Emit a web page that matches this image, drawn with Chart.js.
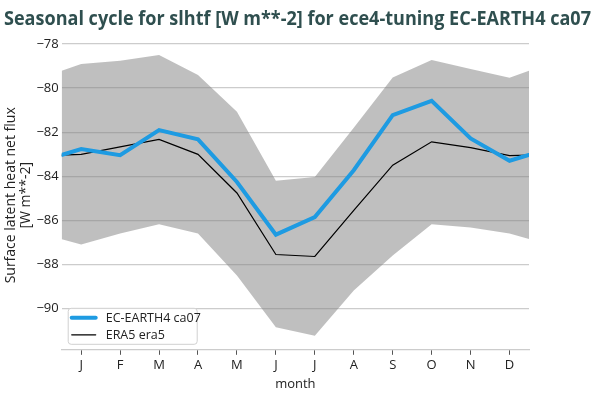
<!DOCTYPE html>
<html>
<head>
<meta charset="utf-8">
<title>Seasonal cycle slhtf</title>
<script src="https://cdn.jsdelivr.net/npm/chart.js@4/dist/chart.umd.min.js"></script>
<style>
    html, body { margin: 0; padding: 0; background: #fff; }
    #wrap { width: 595px; height: 401px; position: relative; }
</style>
</head>
<body>
<div id="wrap"><canvas id="seasonChart"></canvas></div>
<script>
// months and tick labels
const months = ['J', 'F', 'M', 'A', 'M', 'J', 'J', 'A', 'S', 'O', 'N', 'D'];
const yTicks = [-90, -88, -86, -84, -82, -80, -78];

// monthly means
const ecEarth = [-82.77, -83.05, -81.91, -82.33, -84.26, -86.65, -85.85, -83.73, -81.23, -80.58, -82.29, -83.30];
const era5 = [-83.01, -82.67, -82.33, -83.01, -84.76, -87.55, -87.64, -85.55, -83.50, -82.44, -82.70, -83.07];
// spread (shaded band)
const bandUpper = [-78.91, -78.76, -78.50, -79.41, -81.08, -84.21, -84.03, -81.80, -79.52, -78.73, -79.14, -79.53];
const bandLower = [-87.10, -86.60, -86.18, -86.60, -88.50, -90.85, -91.23, -89.18, -87.59, -86.18, -86.33, -86.60];

const yMin = -91.87;
const yMax = -77.86;

// cyclic: put December before January and January after December
function cyclic(values) {
    const pts = values.map((v, i) => ({ x: i + 1, y: v }));
    pts.unshift({ x: 0, y: values[values.length - 1] });
    pts.push({ x: 13, y: values[0] });
    return pts;
}

const minus = v => String(v).replace('-', '\u2212');
const FONT = '"Open Sans", sans-serif';

// legend drawn inside the plot area (bottom left)
const insideLegend = {
    id: 'insideLegend',
    afterDatasetsDraw(chart) {
        const ctx = chart.ctx;
        const area = chart.chartArea;
        const x = area.left + 6, y = area.bottom - 42, w = 129, h = 36;
        ctx.save();
        ctx.fillStyle = 'rgba(255,255,255,0.85)';
        ctx.strokeStyle = '#d0d0d0';
        ctx.lineWidth = 1;
        ctx.beginPath();
        ctx.roundRect(x + 0.5, y + 0.5, w, h, 3);
        ctx.fill();
        ctx.stroke();
        const items = chart.data.datasets.filter(d => d.inLegend);
        ctx.font = '12.5px ' + FONT;
        ctx.textBaseline = 'middle';
        items.forEach((d, i) => {
            const cy = y + 10 + i * 17;
            ctx.strokeStyle = d.borderColor;
            ctx.lineWidth = d.borderWidth;
            ctx.lineCap = 'round';
            ctx.beginPath();
            ctx.moveTo(x + 4, cy);
            ctx.lineTo(x + 28, cy);
            ctx.stroke();
            ctx.fillStyle = '#222';
            ctx.fillText(d.label, x + 38, cy + 1);
        });
        ctx.restore();
    }
};

const ctx = document.getElementById('seasonChart').getContext('2d');
new Chart(ctx, {
    type: 'line',
    data: {
        datasets: [
            {
                label: 'spread upper',
                data: cyclic(bandUpper),
                borderWidth: 0,
                pointRadius: 0,
                backgroundColor: 'rgba(128,128,128,0.5)',
                fill: '+1',
                order: 3
            },
            {
                label: 'spread lower',
                data: cyclic(bandLower),
                borderWidth: 0,
                pointRadius: 0,
                fill: false,
                order: 3
            },
            {
                label: 'EC-EARTH4 ca07',
                data: cyclic(ecEarth),
                borderColor: '#1e9be2',
                borderWidth: 4,
                pointRadius: 0,
                fill: false,
                inLegend: true,
                order: 1
            },
            {
                label: 'ERA5 era5',
                data: cyclic(era5),
                borderColor: '#000000',
                borderWidth: 1.2,
                pointRadius: 0,
                fill: false,
                inLegend: true,
                order: 2
            }
        ]
    },
    options: {
        responsive: true,
        maintainAspectRatio: false,
        animation: false,
        layout: { padding: { left: 4, right: 4, top: 0, bottom: 5 } },
        plugins: {
            legend: { display: false },
            tooltip: { enabled: false },
            title: {
                display: true,
                text: 'Seasonal cycle for slhtf [W m**-2] for ece4-tuning EC-EARTH4 ca07',
                color: '#2f4f4f',
                font: { family: FONT, size: 19, weight: 'bold' },
                padding: { top: 8, bottom: 10 }
            }
        },
        scales: {
            x: {
                type: 'linear',
                min: 0.5,
                max: 12.5,
                afterBuildTicks: axis => {
                    axis.ticks = months.map((m, i) => ({ value: i + 1 }));
                },
                ticks: {
                    callback: (v) => months[v - 1],
                    color: '#222',
                    font: { family: FONT, size: 13 },
                    padding: 3,
                    maxRotation: 0,
                    autoSkip: false
                },
                grid: { drawOnChartArea: false, drawTicks: true, tickLength: 5, color: '#555' },
                border: { display: true, color: '#cccccc', width: 1.2 },
                title: {
                    display: true,
                    text: 'month',
                    color: '#222',
                    font: { family: FONT, size: 13 },
                    padding: { top: 0 }
                }
            },
            y: {
                min: yMin,
                max: yMax,
                afterBuildTicks: axis => {
                    axis.ticks = yTicks.map(v => ({ value: v }));
                },
                ticks: {
                    callback: v => minus(v),
                    color: '#222',
                    font: { family: FONT, size: 13 },
                    padding: 3
                },
                grid: { color: '#cccccc', lineWidth: 1.2, drawTicks: false },
                border: { display: false },
                title: {
                    display: true,
                    text: ['Surface latent heat net flux', '[W m**-2]'],
                    color: '#222',
                    font: { family: FONT, size: 14, lineHeight: 1.05 },
                    padding: { top: 0, bottom: 0 }
                }
            },
            // empty right-hand margin, keeps the title box full width
            spacer: {
                type: 'linear',
                position: 'right',
                display: true,
                grid: { display: false },
                border: { display: false },
                ticks: { display: false },
                afterFit: s => { s.width = 62; }
            }
        }
    },
    plugins: [insideLegend]
});
</script>
</body>
</html>
